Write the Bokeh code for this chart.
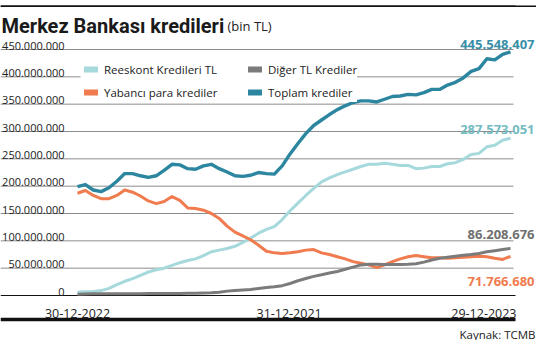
from bokeh.plotting import figure
from bokeh.models import Range1d, Legend, LegendItem, Span
from bokeh.core.properties import value
from bokeh.embed import file_html
from bokeh.resources import INLINE

# ---------------- data (million TL, weekly) ----------------
weeks = list(range(56))
reeskont = [6, 7, 7.5, 9, 13, 20, 26, 31, 37, 43, 47, 50, 55, 60, 64, 67, 73, 80, 83, 86,
            90, 97, 105, 114, 121, 126, 139, 155, 169, 183, 196, 208, 215, 221, 226, 231, 236, 240, 240, 242,
            240, 238, 238, 232, 233, 236, 236, 241, 243, 249, 258, 260, 272, 275, 284, 287.573051]
diger = [2.5, 2.8, 3, 3, 3, 3.2, 3.3, 3.3, 3.4, 3.5, 3.5, 3.5, 3.6, 3.8, 4, 4.3, 4.6, 5, 6, 8,
         9, 10, 11, 13, 14.5, 16, 18, 22, 27, 31, 35, 38, 41, 44, 48, 52, 56, 57, 57, 56.8,
         56.6, 56.6, 57, 58, 61, 65, 68, 70, 72, 73.5, 75, 77, 80, 82, 84, 86.208676]
yabanci = [187, 192, 183, 177, 177, 183, 193, 189, 182, 173, 168, 172, 181, 174, 160, 159, 156, 150, 141, 127,
           116, 109, 102, 92, 81, 78, 77, 78, 80, 83, 84, 78, 75, 71, 67, 62, 59, 56, 51, 56,
           62, 67, 71, 73, 71, 69, 69, 68, 69, 70, 71, 72, 71, 68, 66, 71.76668]
toplam = [199, 203, 193, 190, 197, 209, 223, 223, 219, 216, 219, 229, 240, 239, 232, 231, 237, 240, 232, 226,
          219, 218, 220, 225, 223, 222, 237, 259, 278, 296, 311, 321, 331, 340, 347, 353, 356, 356, 354, 359,
          364, 365, 368, 367, 371, 377, 377, 385, 390, 398, 410, 415, 433, 431, 441, 445.548407]
series_names = ["Reeskont Kredileri TL", "Diğer TL Krediler", "Yabancı para krediler", "Toplam krediler"]
y_ticks = [0, 50, 100, 150, 200, 250, 300, 350, 400, 450]
y_tick_labels = ["0", "50.000.000", "100.000.000", "150.000.000", "200.000.000", "250.000.000",
                 "300.000.000", "350.000.000", "400.000.000", "450.000.000"]
x_labels = ["30-12-2022", "31-12-2021", "29-12-2023"]
end_labels = ["445.548.407", "287.573.051", "86.208.676", "71.766.680"]
title = "Merkez Bankası kredileri"
subtitle = "(bin TL)"
source_text = "Kaynak: TCMB"

# ---------------- layout helpers (pixel -> data) ----------------
W, H = 536, 340
X0, X1 = 77.0, 510.0          # pixel x of first / last week
Y0, Y450 = 295.0, 49.0        # pixel y (from top) of 0 and 450
dx = (X1 - X0) / (len(weeks) - 1)
dy = (Y0 - Y450) / 450.0


def px(fx):
    return (fx - X0) / dx


def py(fy):
    return (Y0 - fy) / dy


p = figure(width=W, height=H, output_backend="svg", toolbar_location=None, title=None,
           x_range=Range1d(px(0), px(W)), y_range=Range1d(py(H), py(0)),
           x_axis_location=None, y_axis_location=None, min_border=0)
p.min_border_left = p.min_border_right = p.min_border_top = p.min_border_bottom = 0
p.grid.visible = False
p.outline_line_color = None
p.background_fill_color = "white"
p.border_fill_color = "white"

FONT = value("Open Sans")
C_TOP = "#2d86a0"
C_RES = "#a6d9dc"
C_ORA = "#ef7b4e"
C_GRY = "#7b7b7b"

# gridlines
gy = [t for t in y_ticks if t > 0]
p.segment(x0=[px(0)] * len(gy), x1=[px(513)] * len(gy), y0=gy, y1=gy,
          line_color="#8c8c8c", line_width=1)
# white area behind legend
p.quad(left=[px(80)], right=[px(350)], top=[py(53)], bottom=[py(102)],
       fill_color="white", line_color=None)
# baseline axis
p.segment(x0=[px(0)], x1=[px(515)], y0=[0], y1=[0], line_color="#111111", line_width=1.2)
# top rule and bottom bar
p.quad(left=[px(0)], right=[px(515)], top=[py(5)], bottom=[py(6.5)], fill_color="#111111", line_color=None)
p.add_layout(Span(location=py(5.75), dimension="width", line_color="#111111", line_width=1.5))
p.segment(x0=[px(0)], x1=[px(515)], y0=[py(319)], y1=[py(319)], line_color="#111111", line_width=3.6)

# series
p.line(weeks, reeskont, line_color=C_RES, line_width=3, line_join="round")
p.line(weeks, yabanci, line_color=C_ORA, line_width=3, line_join="round")
p.line(weeks, diger, line_color=C_GRY, line_width=3, line_join="round")
p.line(weeks, toplam, line_color=C_TOP, line_width=3.4, line_join="round")

# legend swatches (renderers hidden under the legend box)
sw = {}
for name, col in zip(series_names, [C_RES, C_GRY, C_ORA, C_TOP]):
    sw[name] = p.line(x=[px(120), px(121)], y=[py(76), py(76)], line_color=col, line_width=6,
                      line_cap="round")

leg_kw = dict(background_fill_color="white", background_fill_alpha=1.0, border_line_color=None,
              padding=2, margin=0, spacing=3, label_height=20, glyph_height=20, glyph_width=14,
              label_standoff=6, label_text_font="Open Sans", label_text_font_size="11.5px",
              label_text_color="#222222")
leg1 = Legend(items=[LegendItem(label=series_names[0], renderers=[sw[series_names[0]]]),
                     LegendItem(label=series_names[2], renderers=[sw[series_names[2]]])],
              location=(84, H - 102), **leg_kw)
leg2 = Legend(items=[LegendItem(label=series_names[1], renderers=[sw[series_names[1]]]),
                     LegendItem(label=series_names[3], renderers=[sw[series_names[3]]])],
              location=(248, H - 102), **leg_kw)
p.add_layout(leg1)
p.add_layout(leg2)

# y tick labels
p.text(x=[px(64)] * len(y_ticks), y=y_ticks, text=y_tick_labels, text_font=FONT,
       text_font_size="11px", text_color="#222222", text_align="right",
       text_baseline="alphabetic", y_offset=-4)

# x labels
p.text(x=[weeks[0], px(288.6)], y=[py(313)] * 2, text=x_labels[:2], text_font=FONT,
       text_font_size="12.5px", text_color="#222222", text_align="center", text_baseline="alphabetic")
p.text(x=[px(516)], y=[py(313)], text=x_labels[2:], text_font=FONT,
       text_font_size="12.5px", text_color="#222222", text_align="right", text_baseline="alphabetic")

# end value labels
end_y = [py(44), py(129), py(234), py(281)]
end_c = ["#3a8fa8", "#74bcc1", "#707070", "#ef7b4e"]
for t, yy, c in zip(end_labels, end_y, end_c):
    p.text(x=[px(534)], y=[yy], text=[t], text_font=FONT, text_font_size="13px",
           text_font_style="bold", text_color=c, text_align="right", text_baseline="alphabetic")

# title
p.text(x=[px(1)], y=[py(25.5)], text=[title], text_font=value("Roboto"), text_font_size="20px",
       text_font_style="bold", text_color="#1a1a1a", text_align="left", text_baseline="alphabetic")
p.text(x=[px(227)], y=[py(25.5)], text=[subtitle], text_font=FONT, text_font_size="13px",
       text_color="#222222", text_align="left", text_baseline="alphabetic")

# source
p.text(x=[px(535)], y=[py(333.5)], text=[source_text], text_font=FONT, text_font_size="11.5px",
       text_color="#222222", text_align="right", text_baseline="alphabetic")

open("out.html", "w").write(file_html(p, INLINE))
